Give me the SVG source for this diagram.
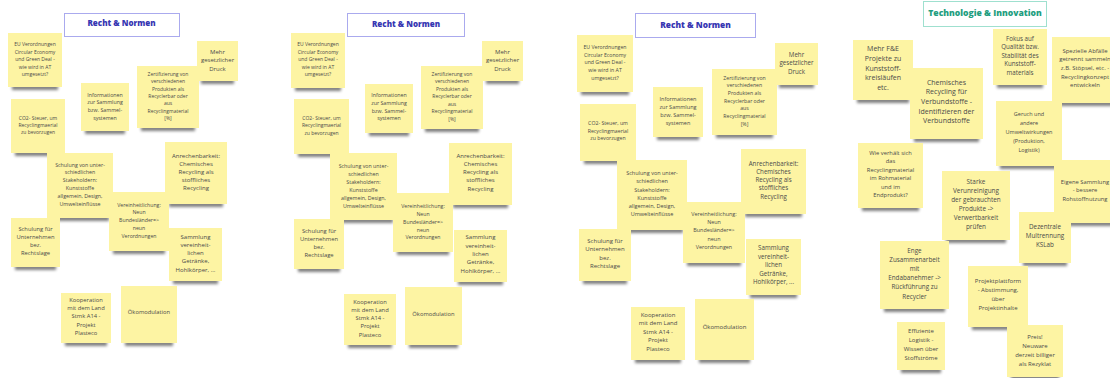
<svg xmlns="http://www.w3.org/2000/svg" width="1110" height="378" viewBox="0 0 1110 378">
<defs>
<filter id="blur" x="-20%" y="-100%" width="140%" height="300%"><feGaussianBlur stdDeviation="1.8"/></filter>
<style>
.sh{fill:#000;opacity:.5;filter:url(#blur);transform:translateY(1px)}
.n{fill:#fdf4a3}
.t{font-family:"Open Sans","Noto Sans",sans-serif;fill:#4a4a4a;text-anchor:middle}
.tb{fill:#fff;stroke:#aaaaee;stroke-width:1}
.tt{font-family:"Open Sans","Noto Sans",sans-serif;font-weight:800;text-anchor:middle;fill:#3636b2}
.tb2{fill:#fff;stroke:#9fe0cf;stroke-width:1}
.tt2{font-family:"Open Sans","Noto Sans",sans-serif;font-weight:800;text-anchor:middle;fill:#1f9e80}
</style>
</defs>
<rect width="1110" height="378" fill="#fff"/>

<!-- Panel 1 -->
<g id="p1-title"><rect class="tb" x="64.5" y="13.5" width="115" height="23"/><text class="tt" x="121.5" y="26" font-size="8">Recht &amp; Normen</text></g>
<g id="p1-eu"><rect class="sh" x="12" y="84" width="46" height="5"/><rect class="n" x="8" y="33" width="54" height="54"/><text class="t" font-size="5" x="35" y="46"><tspan x="35">EU Verordnungen</tspan><tspan x="35" dy="7.5">Circular Economy</tspan><tspan x="35" dy="7.5">und Green Deal -</tspan><tspan x="35" dy="7.5">wie wird in AT</tspan><tspan x="35" dy="7.5">umgesetzt?</tspan></text></g>
<g id="p1-mehr"><rect class="sh" x="201" y="78" width="33" height="5"/><rect class="n" x="197" y="41" width="41" height="40"/><text class="t" font-size="6" x="217.5" y="53.8"><tspan x="217.5">Mehr</tspan><tspan x="217.5" dy="8.5">gesetzlicher</tspan><tspan x="217.5" dy="8.5">Druck</tspan></text></g>
<g id="p1-zert"><rect class="sh" x="141" y="125" width="54" height="5"/><rect class="n" x="137" y="66" width="62" height="62"/><text class="t" font-size="5" x="168" y="75.8"><tspan x="168">Zertifizierung von</tspan><tspan x="168" dy="7.4">verschiedenen</tspan><tspan x="168" dy="7.4">Produkten als</tspan><tspan x="168" dy="7.4">Recyclerbar oder</tspan><tspan x="168" dy="7.4">aus</tspan><tspan x="168" dy="7.4">Recyclingmaterial</tspan><tspan x="168" dy="7.4">[%]</tspan></text></g>
<g id="p1-info"><rect class="sh" x="85" y="128" width="40" height="5"/><rect class="n" x="81" y="83" width="48" height="48"/><text class="t" font-size="5.3" x="105" y="96.6"><tspan x="105">Informationen</tspan><tspan x="105" dy="7.7">zur Sammlung</tspan><tspan x="105" dy="7.7">bzw. Sammel-</tspan><tspan x="105" dy="7.7">systemen</tspan></text></g>
<g id="p1-co2"><rect class="sh" x="15" y="150" width="46" height="5"/><rect class="n" x="11" y="99" width="54" height="54"/><text class="t" font-size="5" x="38" y="119.5"><tspan x="38">CO2- Steuer, um</tspan><tspan x="38" dy="7.3">Recyclingmaerial</tspan><tspan x="38" dy="7.3">zu bevorzugen</tspan></text></g>
<g id="p1-schulv"><rect class="sh" x="51" y="215" width="58" height="5"/><rect class="n" x="47" y="153" width="66" height="65"/><text class="t" font-size="5.3" x="80" y="166.6"><tspan x="80">Schulung von unter-</tspan><tspan x="80" dy="7.8">schiedlichen</tspan><tspan x="80" dy="7.8">Stakeholdern:</tspan><tspan x="80" dy="7.8">Kunststoffe</tspan><tspan x="80" dy="7.8">allgemein, Design,</tspan><tspan x="80" dy="7.8">Umwelteinflüsse</tspan></text></g>
<g id="p1-anrech"><rect class="sh" x="169" y="201" width="54" height="5"/><rect class="n" x="165" y="142" width="62" height="62"/><text class="t" font-size="6" x="196" y="157.8"><tspan x="196">Anrechenbarkeit:</tspan><tspan x="196" dy="8">Chemisches</tspan><tspan x="196" dy="8">Recycling als</tspan><tspan x="196" dy="8">stoffliches</tspan><tspan x="196" dy="8">Recycling</tspan></text></g>
<g id="p1-vereinh"><rect class="sh" x="113" y="248" width="52" height="5"/><rect class="n" x="109" y="192" width="60" height="59"/><text class="t" font-size="5.2" x="139" y="206.5"><tspan x="139">Vereinheitlichung:</tspan><tspan x="139" dy="7.8">Neun</tspan><tspan x="139" dy="7.8">Bundesländer=&gt;</tspan><tspan x="139" dy="7.8">neun</tspan><tspan x="139" dy="7.8">Verordnungen</tspan></text></g>
<g id="p1-schulf"><rect class="sh" x="15" y="264" width="41" height="5"/><rect class="n" x="11" y="218" width="49" height="49"/><text class="t" font-size="5.8" x="35.5" y="231.3"><tspan x="35.5">Schulung für</tspan><tspan x="35.5" dy="8">Unternehmen</tspan><tspan x="35.5" dy="8">bez.</tspan><tspan x="35.5" dy="8">Rechtslage</tspan></text></g>
<g id="p1-samml"><rect class="sh" x="173" y="278" width="45" height="5"/><rect class="n" x="169" y="228" width="53" height="53"/><text class="t" font-size="6" x="195.5" y="238.8"><tspan x="195.5">Sammlung</tspan><tspan x="195.5" dy="8.2">vereinheit-</tspan><tspan x="195.5" dy="8.2">lichen</tspan><tspan x="195.5" dy="8.2">Getränke,</tspan><tspan x="195.5" dy="8.2">Hohlkörper, ...</tspan></text></g>
<g id="p1-koop"><rect class="sh" x="65" y="340" width="42" height="5"/><rect class="n" x="61" y="293" width="50" height="50"/><text class="t" font-size="5.8" x="86" y="302"><tspan x="86">Kooperation</tspan><tspan x="86" dy="8.2">mit dem Land</tspan><tspan x="86" dy="8.2">Stmk A14 -</tspan><tspan x="86" dy="8.2">Projekt</tspan><tspan x="86" dy="8.2">Plasteco</tspan></text></g>
<g id="p1-oeko"><rect class="sh" x="125" y="340" width="48" height="5"/><rect class="n" x="121" y="286" width="56" height="57"/><text class="t" font-size="5.8" x="149" y="314.3">Ökomodulation</text></g>

<!-- Panel 2 -->
<g id="p2-title"><rect class="tb" x="347.5" y="13.5" width="117" height="23"/><text class="tt" x="406" y="27" font-size="8">Recht &amp; Normen</text></g>
<g id="p2-eu"><rect class="sh" x="295" y="85" width="46" height="5"/><rect class="n" x="291" y="33" width="54" height="55"/><text class="t" font-size="5" x="318" y="46"><tspan x="318">EU Verordnungen</tspan><tspan x="318" dy="7.5">Circular Economy</tspan><tspan x="318" dy="7.5">und Green Deal -</tspan><tspan x="318" dy="7.5">wie wird in AT</tspan><tspan x="318" dy="7.5">umgesetzt?</tspan></text></g>
<g id="p2-mehr"><rect class="sh" x="486" y="78" width="33" height="5"/><rect class="n" x="482" y="41" width="41" height="40"/><text class="t" font-size="6" x="502.5" y="53.8"><tspan x="502.5">Mehr</tspan><tspan x="502.5" dy="8.5">gesetzlicher</tspan><tspan x="502.5" dy="8.5">Druck</tspan></text></g>
<g id="p2-zert"><rect class="sh" x="425" y="126" width="54" height="5"/><rect class="n" x="421" y="66" width="62" height="63"/><text class="t" font-size="5" x="452" y="75.8"><tspan x="452">Zertifizierung von</tspan><tspan x="452" dy="7.5">verschiedenen</tspan><tspan x="452" dy="7.5">Produkten als</tspan><tspan x="452" dy="7.5">Recyclerbar oder</tspan><tspan x="452" dy="7.5">aus</tspan><tspan x="452" dy="7.5">Recyclingmaterial</tspan><tspan x="452" dy="7.5">[%]</tspan></text></g>
<g id="p2-info"><rect class="sh" x="369" y="130" width="40" height="5"/><rect class="n" x="365" y="84" width="48" height="49"/><text class="t" font-size="5.3" x="389" y="96.9"><tspan x="389">Informationen</tspan><tspan x="389" dy="7.8">zur Sammlung</tspan><tspan x="389" dy="7.8">bzw. Sammel-</tspan><tspan x="389" dy="7.8">systemen</tspan></text></g>
<g id="p2-co2"><rect class="sh" x="298" y="151" width="47" height="5"/><rect class="n" x="294" y="99" width="55" height="55"/><text class="t" font-size="5" x="321.5" y="120"><tspan x="321.5">CO2- Steuer, um</tspan><tspan x="321.5" dy="7.3">Recyclingmaerial</tspan><tspan x="321.5" dy="7.3">zu bevorzugen</tspan></text></g>
<g id="p2-schulv"><rect class="sh" x="334" y="217" width="59" height="5"/><rect class="n" x="330" y="153" width="67" height="67"/><text class="t" font-size="5.3" x="363.5" y="167.9"><tspan x="363.5">Schulung von unter-</tspan><tspan x="363.5" dy="8">schiedlichen</tspan><tspan x="363.5" dy="8">Stakeholdern:</tspan><tspan x="363.5" dy="8">Kunststoffe</tspan><tspan x="363.5" dy="8">allgemein, Design,</tspan><tspan x="363.5" dy="8">Umwelteinflüsse</tspan></text></g>
<g id="p2-anrech"><rect class="sh" x="453" y="202" width="55" height="5"/><rect class="n" x="449" y="143" width="63" height="62"/><text class="t" font-size="6" x="480.5" y="158.1"><tspan x="480.5">Anrechenbarkeit:</tspan><tspan x="480.5" dy="8.1">Chemisches</tspan><tspan x="480.5" dy="8.1">Recycling als</tspan><tspan x="480.5" dy="8.1">stoffliches</tspan><tspan x="480.5" dy="8.1">Recycling</tspan></text></g>
<g id="p2-vereinh"><rect class="sh" x="397" y="249" width="52" height="5"/><rect class="n" x="393" y="193" width="60" height="59"/><text class="t" font-size="5.2" x="423" y="207.8"><tspan x="423">Vereinheitlichung:</tspan><tspan x="423" dy="7.9">Neun</tspan><tspan x="423" dy="7.9">Bundesländer=&gt;</tspan><tspan x="423" dy="7.9">neun</tspan><tspan x="423" dy="7.9">Verordnungen</tspan></text></g>
<g id="p2-schulf"><rect class="sh" x="298" y="266" width="42" height="5"/><rect class="n" x="294" y="219" width="50" height="50"/><text class="t" font-size="5.8" x="319" y="233"><tspan x="319">Schulung für</tspan><tspan x="319" dy="8.1">Unternehmen</tspan><tspan x="319" dy="8.1">bez.</tspan><tspan x="319" dy="8.1">Rechtslage</tspan></text></g>
<g id="p2-samml"><rect class="sh" x="458" y="279" width="45" height="5"/><rect class="n" x="454" y="230" width="53" height="52"/><text class="t" font-size="6" x="480.5" y="239.4"><tspan x="480.5">Sammlung</tspan><tspan x="480.5" dy="8.3">vereinheit-</tspan><tspan x="480.5" dy="8.3">lichen</tspan><tspan x="480.5" dy="8.3">Getränke,</tspan><tspan x="480.5" dy="8.3">Hohlkörper, ...</tspan></text></g>
<g id="p2-koop"><rect class="sh" x="348" y="342" width="44" height="5"/><rect class="n" x="344" y="294" width="52" height="51"/><text class="t" font-size="5.8" x="370" y="303.7"><tspan x="370">Kooperation</tspan><tspan x="370" dy="8.2">mit dem Land</tspan><tspan x="370" dy="8.2">Stmk A14 -</tspan><tspan x="370" dy="8.2">Projekt</tspan><tspan x="370" dy="8.2">Plasteco</tspan></text></g>
<g id="p2-oeko"><rect class="sh" x="409" y="342" width="49" height="5"/><rect class="n" x="405" y="287" width="57" height="58"/><text class="t" font-size="5.8" x="433.5" y="316.3">Ökomodulation</text></g>

<!-- Panel 3 -->
<g id="p3-title"><rect class="tb" x="635.5" y="13.5" width="120" height="24"/><text class="tt" x="695.5" y="28.3" font-size="8.3">Recht &amp; Normen</text></g>
<g id="p3-eu"><rect class="sh" x="581" y="89" width="48" height="5"/><rect class="n" x="577" y="35" width="56" height="57"/><text class="t" font-size="5.2" x="605" y="48.8"><tspan x="605">EU Verordnungen</tspan><tspan x="605" dy="7.8">Circular Economy</tspan><tspan x="605" dy="7.8">und Green Deal -</tspan><tspan x="605" dy="7.8">wie wird in AT</tspan><tspan x="605" dy="7.8">umgesetzt?</tspan></text></g>
<g id="p3-mehr"><rect class="sh" x="779" y="82" width="35" height="5"/><rect class="n" x="775" y="43" width="43" height="42"/><text class="t" font-size="6.2" x="796.5" y="56.5"><tspan x="796.5">Mehr</tspan><tspan x="796.5" dy="8.8">gesetzlicher</tspan><tspan x="796.5" dy="8.8">Druck</tspan></text></g>
<g id="p3-zert"><rect class="sh" x="716" y="132" width="57" height="5"/><rect class="n" x="712" y="69" width="65" height="66"/><text class="t" font-size="5.2" x="744.5" y="79.5"><tspan x="744.5">Zertifizierung von</tspan><tspan x="744.5" dy="7.7">verschiedenen</tspan><tspan x="744.5" dy="7.7">Produkten als</tspan><tspan x="744.5" dy="7.7">Recyclerbar oder</tspan><tspan x="744.5" dy="7.7">aus</tspan><tspan x="744.5" dy="7.7">Recyclingmaterial</tspan><tspan x="744.5" dy="7.7">[%]</tspan></text></g>
<g id="p3-info"><rect class="sh" x="657" y="134" width="42" height="5"/><rect class="n" x="653" y="87" width="50" height="50"/><text class="t" font-size="5.5" x="678" y="101.2"><tspan x="678">Informationen</tspan><tspan x="678" dy="8">zur Sammlung</tspan><tspan x="678" dy="8">bzw. Sammel-</tspan><tspan x="678" dy="8">systemen</tspan></text></g>
<g id="p3-co2"><rect class="sh" x="584" y="158" width="48" height="5"/><rect class="n" x="580" y="104" width="56" height="57"/><text class="t" font-size="5.2" x="608" y="125.1"><tspan x="608">CO2- Steuer, um</tspan><tspan x="608" dy="7.6">Recyclingmaerial</tspan><tspan x="608" dy="7.6">zu bevorzugen</tspan></text></g>
<g id="p3-schulv"><rect class="sh" x="621" y="227" width="62" height="5"/><rect class="n" x="617" y="160" width="70" height="70"/><text class="t" font-size="5.5" x="652" y="175.2"><tspan x="652">Schulung von unter-</tspan><tspan x="652" dy="8.2">schiedlichen</tspan><tspan x="652" dy="8.2">Stakeholdern:</tspan><tspan x="652" dy="8.2">Kunststoffe</tspan><tspan x="652" dy="8.2">allgemein, Design,</tspan><tspan x="652" dy="8.2">Umwelteinflüsse</tspan></text></g>
<g id="p3-anrech"><rect class="sh" x="745" y="211" width="57" height="5"/><rect class="n" x="741" y="149" width="65" height="65"/><text class="t" font-size="6.2" x="773.5" y="165.5"><tspan x="773.5">Anrechenbarkeit:</tspan><tspan x="773.5" dy="8.3">Chemisches</tspan><tspan x="773.5" dy="8.3">Recycling als</tspan><tspan x="773.5" dy="8.3">stoffliches</tspan><tspan x="773.5" dy="8.3">Recycling</tspan></text></g>
<g id="p3-vereinh"><rect class="sh" x="687" y="260" width="54" height="5"/><rect class="n" x="683" y="202" width="62" height="61"/><text class="t" font-size="5.4" x="714" y="216.2"><tspan x="714">Vereinheitlichung:</tspan><tspan x="714" dy="8.1">Neun</tspan><tspan x="714" dy="8.1">Bundesländer=&gt;</tspan><tspan x="714" dy="8.1">neun</tspan><tspan x="714" dy="8.1">Verordnungen</tspan></text></g>
<g id="p3-schulf"><rect class="sh" x="583" y="278" width="44" height="5"/><rect class="n" x="579" y="229" width="52" height="52"/><text class="t" font-size="6" x="605" y="243.1"><tspan x="605">Schulung für</tspan><tspan x="605" dy="8.3">Unternehmen</tspan><tspan x="605" dy="8.3">bez.</tspan><tspan x="605" dy="8.3">Rechtslage</tspan></text></g>
<g id="p3-samml"><rect class="sh" x="750" y="292" width="47" height="5"/><rect class="n" x="746" y="239" width="55" height="56"/><text class="t" font-size="6.2" x="773.5" y="249.9"><tspan x="773.5">Sammlung</tspan><tspan x="773.5" dy="8.6">vereinheit-</tspan><tspan x="773.5" dy="8.6">lichen</tspan><tspan x="773.5" dy="8.6">Getränke,</tspan><tspan x="773.5" dy="8.6">Hohlkörper, ...</tspan></text></g>
<g id="p3-koop"><rect class="sh" x="635" y="357" width="46" height="5"/><rect class="n" x="631" y="307" width="54" height="53"/><text class="t" font-size="6" x="658" y="316.8"><tspan x="658">Kooperation</tspan><tspan x="658" dy="8.5">mit dem Land</tspan><tspan x="658" dy="8.5">Stmk A14 -</tspan><tspan x="658" dy="8.5">Projekt</tspan><tspan x="658" dy="8.5">Plasteco</tspan></text></g>
<g id="p3-oeko"><rect class="sh" x="699" y="357" width="51" height="5"/><rect class="n" x="695" y="299" width="59" height="61"/><text class="t" font-size="6" x="724.5" y="329.4">Ökomodulation</text></g>

<!-- Panel 4 -->
<g id="p4-title"><rect class="tb2" x="923.5" y="1.5" width="123" height="25"/><text class="tt2" x="985" y="15.8" font-size="8.6">Technologie &amp; Innovation</text></g>
<g id="p4-mehrfe"><rect class="sh" x="857" y="97" width="52" height="5"/><rect class="n" x="853" y="40" width="60" height="60"/><text class="t" font-size="7" x="883" y="51.2"><tspan x="883">Mehr F&amp;E</tspan><tspan x="883" dy="9.7">Projekte zu</tspan><tspan x="883" dy="9.7">Kunststoff-</tspan><tspan x="883" dy="9.7">kreisläufen</tspan><tspan x="883" dy="9.7">etc.</tspan></text></g>
<g id="p4-chem"><rect class="sh" x="914" y="136" width="65" height="5"/><rect class="n" x="910" y="68" width="73" height="71"/><text class="t" font-size="7" x="946.5" y="84.5"><tspan x="946.5">Chemisches</tspan><tspan x="946.5" dy="9.7">Recycling für</tspan><tspan x="946.5" dy="9.7">Verbundstoffe -</tspan><tspan x="946.5" dy="9.7">Identifizieren der</tspan><tspan x="946.5" dy="9.7">Verbundstoffe</tspan></text></g>
<g id="p4-fokus"><rect class="sh" x="997" y="82" width="46" height="5"/><rect class="n" x="993" y="29" width="54" height="56"/><text class="t" font-size="6.2" x="1020" y="40.5"><tspan x="1020">Fokus auf</tspan><tspan x="1020" dy="8.6">Qualität bzw.</tspan><tspan x="1020" dy="8.6">Stabilität des</tspan><tspan x="1020" dy="8.6">Kunststoff-</tspan><tspan x="1020" dy="8.6">materials</tspan></text></g>
<g id="p4-spez"><rect class="sh" x="1056" y="100" width="58" height="5"/><rect class="n" x="1052" y="37" width="66" height="66"/><text class="t" font-size="6" x="1085" y="52.8"><tspan x="1085">Spezielle Abfälle</tspan><tspan x="1085" dy="8.6">getrennt sammeln</tspan><tspan x="1085" dy="8.6">z.B. Stöpsel, etc. -</tspan><tspan x="1085" dy="8.6">Recyclingkonzept</tspan><tspan x="1085" dy="8.6">entwickeln</tspan></text></g>
<g id="p4-geruch"><rect class="sh" x="1000" y="163" width="58" height="5"/><rect class="n" x="996" y="101" width="66" height="65"/><text class="t" font-size="5.5" x="1029" y="115.9"><tspan x="1029">Geruch und</tspan><tspan x="1029" dy="9">andere</tspan><tspan x="1029" dy="9">Umweltwirkungen</tspan><tspan x="1029" dy="9">(Produktion,</tspan><tspan x="1029" dy="9">Logistik)</tspan></text></g>
<g id="p4-eigene"><rect class="sh" x="1058" y="220" width="58" height="5"/><rect class="n" x="1054" y="160" width="66" height="63"/><text class="t" font-size="5.8" x="1085" y="183.7"><tspan x="1085">Eigene Sammlung</tspan><tspan x="1085" dy="8.5">- bessere</tspan><tspan x="1085" dy="8.5">Rohstoffnutzung</tspan></text></g>
<g id="p4-wie"><rect class="sh" x="862" y="205" width="57" height="5"/><rect class="n" x="858" y="143" width="65" height="65"/><text class="t" font-size="5.8" x="890.5" y="154.7"><tspan x="890.5">Wie verhält sich</tspan><tspan x="890.5" dy="8.5">das</tspan><tspan x="890.5" dy="8.5">Recyclingmaterial</tspan><tspan x="890.5" dy="8.5">im Rohmaterial</tspan><tspan x="890.5" dy="8.5">und im</tspan><tspan x="890.5" dy="8.5">Endprodukt?</tspan></text></g>
<g id="p4-starke"><rect class="sh" x="946" y="237" width="60" height="5"/><rect class="n" x="942" y="171" width="68" height="69"/><text class="t" font-size="6.4" x="976" y="183.9"><tspan x="976">Starke</tspan><tspan x="976" dy="9">Verunreinigung</tspan><tspan x="976" dy="9">der gebrauchten</tspan><tspan x="976" dy="9">Produkte -&gt;</tspan><tspan x="976" dy="9">Verwertbarkeit</tspan><tspan x="976" dy="9">prüfen</tspan></text></g>
<g id="p4-dez"><rect class="sh" x="1023" y="260" width="44" height="5"/><rect class="n" x="1019" y="212" width="52" height="51"/><text class="t" font-size="6.3" x="1045" y="228.9"><tspan x="1045">Dezentrale</tspan><tspan x="1045" dy="9">Multrennung</tspan><tspan x="1045" dy="9">KSLab</tspan></text></g>
<g id="p4-enge"><rect class="sh" x="884" y="306" width="61" height="5"/><rect class="n" x="880" y="241" width="69" height="68"/><text class="t" font-size="6.3" x="914.5" y="252.5"><tspan x="914.5">Enge</tspan><tspan x="914.5" dy="9.2">Zusammenarbeit</tspan><tspan x="914.5" dy="9.2">mit</tspan><tspan x="914.5" dy="9.2">Endabanehmer -&gt;</tspan><tspan x="914.5" dy="9.2">Rückführung zu</tspan><tspan x="914.5" dy="9.2">Recycler</tspan></text></g>
<g id="p4-proj"><rect class="sh" x="972" y="324" width="52" height="5"/><rect class="n" x="968" y="266" width="60" height="61"/><text class="t" font-size="6" x="998" y="283.1"><tspan x="998">Projektplattform</tspan><tspan x="998" dy="9">- Abstimmung,</tspan><tspan x="998" dy="9">über</tspan><tspan x="998" dy="9">Projektinhalte</tspan></text></g>
<g id="p4-eff"><rect class="sh" x="901" y="367" width="40" height="5"/><rect class="n" x="897" y="322" width="48" height="48"/><text class="t" font-size="6" x="921" y="333.4"><tspan x="921">Effiziente</tspan><tspan x="921" dy="9">Logistik -</tspan><tspan x="921" dy="9">Wissen über</tspan><tspan x="921" dy="9">Stoffströme</tspan></text></g>
<g id="p4-preis"><rect class="sh" x="1011" y="374" width="48" height="5"/><rect class="n" x="1007" y="325" width="56" height="52"/><text class="t" font-size="6" x="1035" y="339.1"><tspan x="1035">Preis!</tspan><tspan x="1035" dy="9">Neuware</tspan><tspan x="1035" dy="9">derzeit billiger</tspan><tspan x="1035" dy="9">als Rezyklat</tspan></text></g>

<g id="connectors"/>
</svg>
